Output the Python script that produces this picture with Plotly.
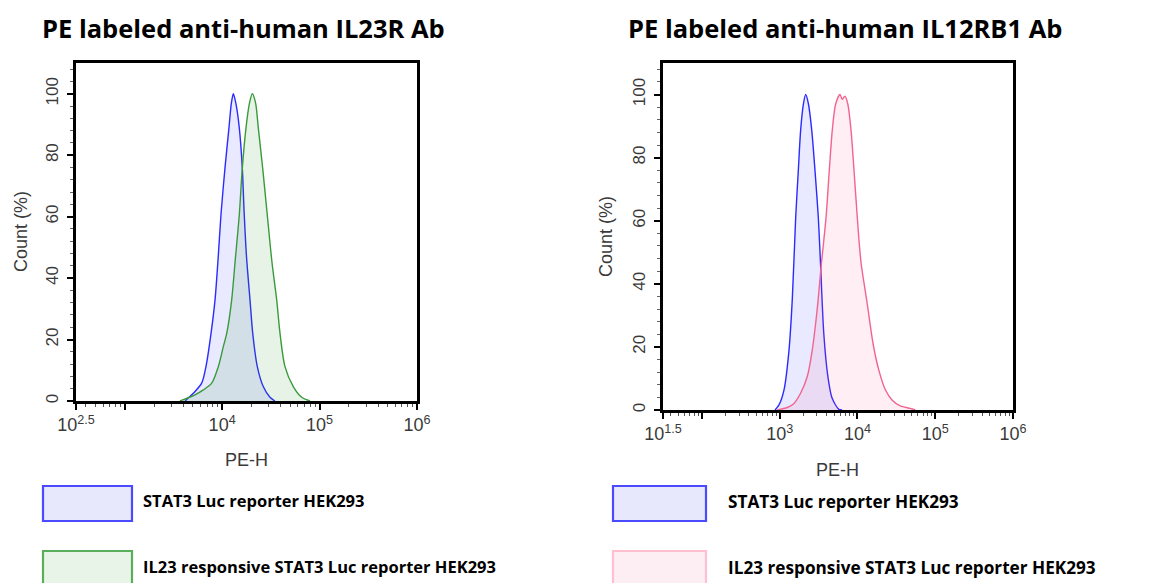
import plotly.graph_objects as go

# ---------------- data (log10 of PE-H, Count %) ----------------
left_blue_log = [3.619, 3.704, 3.790, 3.834, 3.886, 3.927, 3.960, 3.988, 4.029, 4.070,
                 4.095, 4.115, 4.140, 4.176, 4.207, 4.225, 4.250, 4.286, 4.314, 4.361,
                 4.422, 4.491, 4.542]
left_blue_pct = [0, 2.5, 5.8, 11.2, 22, 32.9, 47, 60.6, 75.8, 88.9,
                 97, 100, 97, 88.9, 75.8, 62, 47, 32.9, 22, 11.2,
                 4.7, 1.2, 0]

left_green_log = [3.567, 3.721, 3.807, 3.893, 3.961, 4.012, 4.047, 4.098, 4.132, 4.176,
                  4.207, 4.245, 4.281, 4.310, 4.343, 4.371, 4.416, 4.463, 4.512, 4.560,
                  4.594, 4.645, 4.730, 4.817, 4.902]
left_green_pct = [0, 2, 3.6, 5.8, 11.2, 17.7, 22, 32.9, 45, 60.6,
                  75.8, 88.9, 97, 100, 97, 88.9, 75.8, 60.6, 45, 32.9,
                  22, 11.2, 4.7, 1.2, 0]

right_blue_log = [2.940, 2.991, 3.056, 3.120, 3.162, 3.206, 3.240, 3.270, 3.305, 3.335,
                  3.370, 3.412, 3.454, 3.497, 3.526, 3.568, 3.620, 3.675, 3.761, 3.803]
right_blue_pct = [0, 1.6, 6.4, 19, 35, 61, 76, 88.8, 97, 100,
                  97, 88.8, 76, 61, 46, 24, 10.6, 3.7, 0.2, 0]

right_pink_log = [2.970, 3.098, 3.184, 3.269, 3.355, 3.419, 3.483, 3.535, 3.596, 3.638,
                  3.677, 3.720, 3.776, 3.803, 3.840, 3.876, 3.917, 3.956, 3.998, 4.045,
                  4.124, 4.201, 4.274, 4.359, 4.444, 4.551, 4.679, 4.744]
right_pink_pct = [0, 0.8, 2.1, 5.3, 10.6, 19, 32, 46, 61, 76,
                  88.8, 97, 100, 98.5, 99.5, 97, 88.8, 76, 61, 47,
                  34, 21, 12.7, 6.4, 3.2, 1.3, 0.5, 0]

titles = ["PE labeled anti-human IL23R Ab", "PE labeled anti-human IL12RB1 Ab"]
series_names = ["STAT3 Luc reporter HEK293", "IL23 responsive STAT3 Luc reporter HEK293"]
y_ticks = [0, 20, 40, 60, 80, 100]
left_xtick_exp = [2.5, 3, 4, 5, 6]
left_xtick_text = ["10<sup>2.5</sup>", "", "10<sup>4</sup>", "10<sup>5</sup>", "10<sup>6</sup>"]
right_xtick_exp = [1.5, 2, 3, 4, 5, 6]
right_xtick_text = ["10<sup>1.5</sup>", "", "10<sup>3</sup>", "10<sup>4</sup>", "10<sup>5</sup>", "10<sup>6</sup>"]

# ---------------- figure ----------------
OFF = 8                      # page body margin
FW, FH = 1153 - OFF, 583 - OFF

def px(x):
    return (x - OFF) / FW

def py(y):
    return 1 - (y - OFF) / FH

BLUE, BLUE_F = "#2b2bff", "rgba(40,40,255,0.10)"
GREEN, GREEN_F = "#3a9a3a", "rgba(40,150,40,0.11)"
PINK, PINK_F = "#f2648f", "rgba(255,90,140,0.10)"
TXT = "#3a3a3a"

fig = go.Figure()

def add(xlog, pct, color, fill, xa, ya, name):
    fig.add_trace(go.Scatter(
        x=[10 ** v for v in xlog], y=pct, mode="lines", name=name,
        line=dict(color=color, width=1.4, shape="spline", smoothing=0.8),
        fill="tozeroy", fillcolor=fill, xaxis=xa, yaxis=ya, showlegend=False,
        hoverinfo="skip"))

add(left_blue_log, left_blue_pct, BLUE, BLUE_F, "x", "y", series_names[0])
add(left_green_log, left_green_pct, GREEN, GREEN_F, "x", "y", series_names[1])
add(right_blue_log, right_blue_pct, BLUE, BLUE_F, "x2", "y2", series_names[0])
add(right_pink_log, right_pink_pct, PINK, PINK_F, "x2", "y2", series_names[1])

def minor_vals(lo, hi):
    vals = []
    for k in range(int(lo) - 1, int(hi) + 1):
        for m in range(2, 10):
            v = m * 10 ** k
            if 10 ** lo < v < 10 ** hi:
                vals.append(v)
    return vals

xtickfont = dict(family="Liberation Sans, Arial", size=18, color=TXT)
ytickfont = dict(family="Liberation Sans, Arial", size=17, color=TXT)

def xaxis(dom, lo, hi, exps, texts):
    return dict(domain=dom, type="log", range=[lo, hi], showgrid=False, zeroline=False,
                automargin=False,
                showline=True, linecolor="black", linewidth=2.5, mirror=True,
                ticks="outside", ticklen=6, tickwidth=2, tickcolor="black",
                tickmode="array", tickvals=[10 ** e for e in exps], ticktext=texts,
                tickfont=xtickfont,
                minor=dict(tickmode="array", tickvals=minor_vals(lo, hi), ticks="outside",
                           ticklen=3, tickwidth=1, tickcolor="#555"))

def yaxis(dom, anchor):
    return dict(domain=dom, anchor=anchor, range=[0, 110], showgrid=False, zeroline=False,
                automargin=False,
                showline=True, linecolor="black", linewidth=2.5, mirror=True,
                ticks="outside", ticklen=6, tickwidth=2, tickcolor="black",
                tickmode="array", tickvals=y_ticks, tickangle=-90, tickfont=ytickfont,
                ticklabelstandoff=2,
                minor=dict(tickmode="linear", dtick=4, tick0=0, ticks="outside",
                           ticklen=3, tickwidth=1, tickcolor="#666"))

fig.update_layout(
    width=FW, height=FH, margin=dict(l=0, r=0, t=0, b=0, autoexpand=False),
    paper_bgcolor="white", plot_bgcolor="white",
    xaxis=dict(anchor="y", **xaxis([px(76), px(417)], 2.5, 6, left_xtick_exp, left_xtick_text)),
    yaxis=yaxis([py(401), py(63)], "x"),
    xaxis2=dict(anchor="y2", **xaxis([px(663), px(1013)], 1.5, 6, right_xtick_exp, right_xtick_text)),
    yaxis2=yaxis([py(410), py(63)], "x2"),
)

ann = []
title_font = dict(family="Open Sans", size=25.5, color="black")
ann.append(dict(text="<b>%s</b>" % titles[0], x=px(40), y=py(28), xanchor="left", yanchor="middle", font=title_font))
ann.append(dict(text="<b>%s</b>" % titles[1], x=px(626), y=py(28), xanchor="left", yanchor="middle", font=title_font))

axis_font = dict(family="Liberation Sans, Arial", size=18, color=TXT)
ann.append(dict(text="Count (%)", x=px(21), y=py(232), textangle=-90, xanchor="center", yanchor="middle", font=axis_font))
ann.append(dict(text="Count (%)", x=px(606), y=py(237), textangle=-90, xanchor="center", yanchor="middle", font=axis_font))
ann.append(dict(text="PE-H", x=px(246), y=py(460), xanchor="center", yanchor="middle", font=axis_font))
ann.append(dict(text="PE-H", x=px(837), y=py(470), xanchor="center", yanchor="middle", font=axis_font))

# legends
leg_font = dict(family="Open Sans", size=16.5, color="black")
shapes = []

def legend_entry(x0, x1, y0, y1, line, fill, tx, ty, text, size):
    shapes.append(dict(type="rect", xref="paper", yref="paper", x0=px(x0), x1=px(x1),
                       y0=py(y1), y1=py(y0), line=dict(color=line, width=2.2), fillcolor=fill))
    f = dict(leg_font, size=size)
    ann.append(dict(text="<b>%s</b>" % text, x=px(tx), y=py(ty), xanchor="left", yanchor="middle", font=f))

legend_entry(43, 132, 486, 521, "#4a4aff", "#e8e8fd", 141, 500, series_names[0], 16.5)
legend_entry(43, 132, 551, 595, "#5aae5a", "#e9f4e9", 141, 566, series_names[1], 16.5)
legend_entry(613, 706, 486, 521, "#4a4aff", "#e8e8fd", 726, 501, series_names[0], 17.2)
legend_entry(613, 706, 551, 595, "#ffbfd0", "#fdeef3", 726, 567, series_names[1], 17.2)

for a in ann:
    a.setdefault("xref", "paper")
    a.setdefault("yref", "paper")
    a["showarrow"] = False
fig.update_layout(annotations=ann, shapes=shapes)

fig.write_html("out.html")
